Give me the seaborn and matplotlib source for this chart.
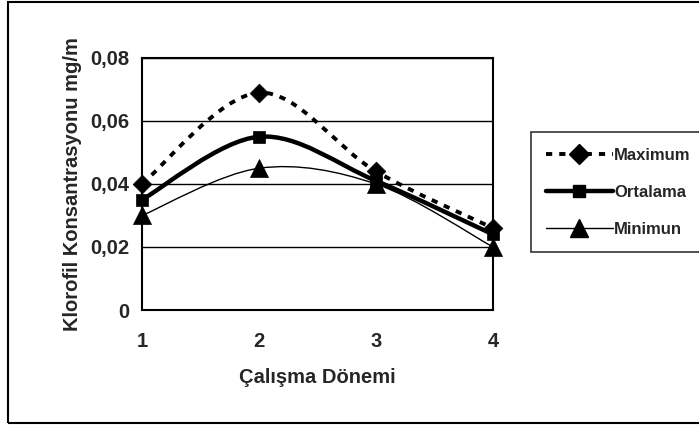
import numpy as np
import pandas as pd
import seaborn as sns
import matplotlib
matplotlib.use("Agg")
from matplotlib import pyplot as plt
from matplotlib.path import Path
from matplotlib.patches import PathPatch, Rectangle
from matplotlib.lines import Line2D
from matplotlib.ticker import FuncFormatter

# data
donem = [1, 2, 3, 4]
maximum = [0.040, 0.069, 0.044, 0.026]
ortalama = [0.035, 0.055, 0.041, 0.024]
minimun = [0.030, 0.045, 0.040, 0.020]
series_names = ['Maximum', 'Ortalama', 'Minimun']
y_ticks = [0, 0.02, 0.04, 0.06, 0.08]


def smooth_path(xs, ys):
    # excel style smoothed line: cubic bezier through the points
    pts = np.column_stack([xs, ys]).astype(float)
    n = len(pts)
    verts = [pts[0]]
    codes = [Path.MOVETO]
    for i in range(n - 1):
        p0 = pts[i - 1] if i > 0 else pts[i]
        p1 = pts[i]
        p2 = pts[i + 1]
        p3 = pts[i + 2] if i + 2 < n else pts[i + 1]
        c1 = p1 + (p2 - p0) / 6.0
        c2 = p2 - (p3 - p1) / 6.0
        verts += [c1, c2, p2]
        codes += [Path.CURVE4] * 3
    return Path(verts, codes)


frame = pd.DataFrame({'donem': donem * 3,
                      'value': maximum + ortalama + minimun,
                      'seri': np.repeat(series_names, len(donem))})

sns.set_style('white')
plt.rcParams['font.family'] = ['Liberation Sans', 'DejaVu Sans']
plt.rcParams['font.weight'] = 'bold'

fig = plt.figure(figsize=(6.99, 4.28), dpi=100)
ax = fig.add_axes([0.2031, 0.2757, 0.5022, 0.5888])

styles = {
    'Maximum': dict(ls=(0, (1.6, 1.8)), lw=2.8, marker='D', ms=11.0),
    'Ortalama': dict(ls='-', lw=3.2, marker='s', ms=10.0),
    'Minimun': dict(ls='-', lw=1.0, marker='^', ms=15.0),
}

for name, vals in zip(series_names, [maximum, ortalama, minimun]):
    st = styles[name]
    ax.add_patch(PathPatch(smooth_path(donem, vals), fill=False, edgecolor='black',
                           lw=st['lw'], linestyle=st['ls'], zorder=3, capstyle='butt'))

for name in series_names:
    st = styles[name]
    sub = frame[frame.seri == name]
    sns.scatterplot(data=sub, x='donem', y='value', ax=ax, marker=st['marker'],
                    s=st['ms'] ** 2 * 0.75, color='black', edgecolor='black', linewidth=0.5,
                    zorder=4, legend=False, clip_on=False)

ax.set_xlim(1, 4)
ax.set_ylim(0, 0.08)
ax.set_xticks(donem)
ax.set_yticks(y_ticks)
ax.yaxis.set_major_formatter(FuncFormatter(lambda v, p: '0' if v == 0 else ('%.2f' % v).replace('.', ',')))
ax.grid(axis='y', color='black', lw=1.0)
ax.grid(axis='x', visible=False)
for sp in ax.spines.values():
    sp.set_color('black')
    sp.set_linewidth(1.5)
ax.tick_params(axis='both', direction='out', length=4, width=1, color='black',
               labelsize=14.5, pad=5)
ax.tick_params(axis='x', pad=12)
ax.set_xlabel('Çalışma Dönemi', fontsize=14.5, fontweight='bold', labelpad=12)
ax.set_ylabel('Klorofil Konsantrasyonu mg/m', fontsize=14.5, fontweight='bold', labelpad=6)

handles = [Line2D([], [], color='black', lw=styles[n]['lw'], ls=styles[n]['ls'],
                  marker=styles[n]['marker'], ms=styles[n]['ms'] * 0.9) for n in series_names]
leg = fig.legend(handles, series_names, loc='upper left', bbox_to_anchor=(0.7597, 0.6916),
                 fontsize=12, frameon=True, fancybox=False, edgecolor='black',
                 handlelength=4.0, handletextpad=0.1, labelspacing=1.25,
                 borderpad=0.9, borderaxespad=0, handleheight=1.0)
leg.get_frame().set_linewidth(1.2)

fig.patches.append(Rectangle((0.0115, 0.0117), 1.2, 0.983, transform=fig.transFigure,
                             fill=False, edgecolor='black', lw=1.5))

fig.savefig('out.png', dpi=100)
